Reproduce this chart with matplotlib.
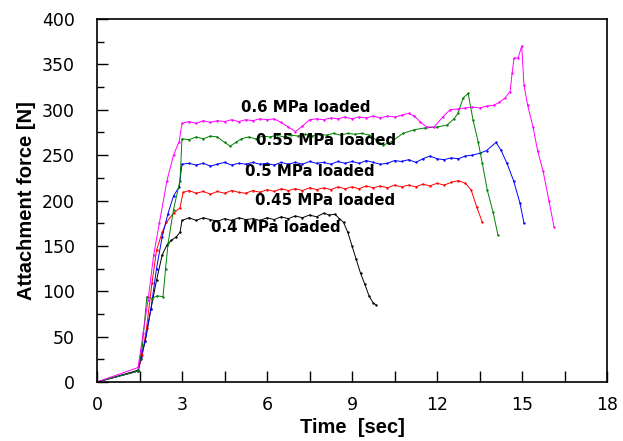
import matplotlib
matplotlib.use("Agg")
import matplotlib.pyplot as plt
from matplotlib.ticker import MultipleLocator

plt.rcParams['font.family'] = ['DejaVu Sans']

# 0.4 MPa (black)
t04 = [0, 1.45, 1.55, 1.7, 1.9, 2.1, 2.3, 2.47, 2.62, 2.8, 2.93, 3.0,
       3.25, 3.5, 3.75, 4.0, 4.25, 4.5, 4.75, 5.0, 5.25, 5.5, 5.75, 6.0, 6.25, 6.5, 6.75, 7.0, 7.25, 7.5, 7.75, 8.0,
       8.2, 8.4, 8.55, 8.7, 8.85, 9.0, 9.15, 9.3, 9.45, 9.6, 9.75, 9.85]
f04 = [0, 13, 25, 45, 80, 112, 140, 151, 156, 160, 165, 178,
       181, 178, 181, 179, 177, 180, 178, 181, 179, 180, 178, 181, 179, 182, 180, 183, 181, 184, 182, 186,
       184, 185, 180, 176, 165, 150, 135, 120, 108, 95, 87, 85]

# 0.45 MPa (red)
t045 = [0, 1.45, 1.6, 1.75, 1.94, 2.1, 2.3, 2.45, 2.7, 2.93, 3.04,
        3.25, 3.5, 3.75, 4.0, 4.25, 4.5, 4.75, 5.0, 5.25, 5.5, 5.75, 6.0, 6.25, 6.5, 6.75, 7.0, 7.25, 7.5, 7.75,
        8.0, 8.25, 8.5, 8.75, 9.0, 9.25, 9.5, 9.75, 10.0, 10.25, 10.5, 10.75, 11.0, 11.25, 11.5, 11.75, 12.0,
        12.25, 12.5, 12.75, 13.0, 13.2, 13.4, 13.6]
f045 = [0, 12, 30, 60, 109, 145, 165, 176, 186, 192, 209,
        211, 208, 210, 207, 210, 208, 211, 209, 208, 211, 209, 212, 210, 213, 211, 213, 211, 214, 212,
        214, 212, 215, 213, 215, 213, 216, 214, 216, 214, 217, 215, 217, 215, 218, 216, 219,
        217, 220, 222, 219, 212, 193, 176]

# 0.5 MPa (blue)
t05 = [0, 1.45, 1.55, 1.7, 1.9, 2.1, 2.3, 2.5, 2.7, 2.9, 3.0,
       3.25, 3.5, 3.75, 4.0, 4.25, 4.5, 4.75, 5.0, 5.25, 5.5, 5.75, 6.0, 6.25, 6.5, 6.75, 7.0, 7.25, 7.5, 7.75,
       8.0, 8.25, 8.5, 8.75, 9.0, 9.25, 9.5, 9.75, 10.0, 10.25, 10.5, 10.75, 11.0, 11.25, 11.5, 11.75, 12.0,
       12.25, 12.5, 12.75, 13.0, 13.25, 13.5, 13.75, 14.08, 14.25, 14.47, 14.7, 14.93, 15.07]
f05 = [0, 12, 28, 45, 80, 125, 160, 185, 205, 215, 240,
       241, 239, 241, 238, 240, 242, 239, 241, 240, 242, 240, 241, 239, 242, 240, 242, 240, 243, 241,
       242, 240, 243, 241, 243, 241, 244, 242, 240, 241, 244, 243, 245, 242, 246, 249, 246,
       245, 247, 246, 249, 250, 252, 255, 264, 256, 241, 222, 197, 175]

# 0.55 MPa (green)
t055 = [0, 1.45, 1.6, 1.76, 1.95, 2.12, 2.33, 2.42, 2.51, 2.7, 2.93, 3.0,
        3.25, 3.5, 3.75, 4.0, 4.25, 4.5, 4.7, 4.9, 5.1, 5.35, 5.6, 5.85, 6.1, 6.35, 6.6, 6.85, 7.1, 7.35, 7.6,
        7.85, 8.1, 8.35, 8.6, 8.85, 9.1, 9.35, 9.6, 9.85, 10.1, 10.4, 10.8, 11.2, 11.58, 12.0, 12.35, 12.6,
        12.74, 12.92, 13.1, 13.27, 13.45, 13.6, 13.77, 13.98, 14.15]
f055 = [0, 12, 40, 94, 92, 95, 94, 125, 153, 190, 222, 268,
        267, 270, 268, 271, 270, 264, 260, 264, 268, 270, 268, 271, 270, 272, 270, 272, 271, 273, 271,
        273, 272, 274, 272, 274, 273, 274, 272, 267, 261, 265, 274, 278, 280, 281, 283, 290,
        296, 313, 318, 289, 265, 241, 212, 187, 162]

# 0.6 MPa (magenta)
t06 = [0, 1.45, 1.63, 1.8, 2.0, 2.2, 2.47, 2.7, 2.9, 3.0,
       3.25, 3.5, 3.75, 4.0, 4.25, 4.5, 4.75, 5.0, 5.25, 5.5, 5.75, 6.0, 6.25, 6.5, 6.75, 7.0, 7.25, 7.5,
       7.75, 8.0, 8.25, 8.5, 8.75, 9.0, 9.25, 9.5, 9.75, 10.0, 10.25, 10.5, 10.75, 11.0, 11.2, 11.4, 11.63,
       11.9, 12.2, 12.46, 12.75, 13.0, 13.25, 13.5, 13.75, 14.0, 14.2, 14.4, 14.58, 14.65, 14.72, 14.86,
       14.99, 15.07, 15.2, 15.39, 15.55, 15.74, 15.95, 16.13]
f06 = [0, 16, 54, 90, 140, 175, 222, 250, 265, 285,
       287, 285, 288, 286, 288, 287, 289, 287, 289, 288, 290, 289, 290, 286, 281, 276, 282, 289,
       290, 289, 291, 290, 292, 290, 292, 291, 293, 291, 293, 292, 294, 296, 293, 287, 281,
       281, 292, 300, 301, 302, 303, 302, 304, 305, 308, 313, 320, 340, 357, 357,
       370, 327, 305, 281, 255, 233, 200, 171]

series = [
    (t04, f04, 'black'),
    (t045, f045, '#ff0000'),
    (t05, f05, '#0000ff'),
    (t055, f055, '#008000'),
    (t06, f06, '#ff00ff'),
]

labels = ['0.6 MPa loaded', '0.55 MPa loaded', '0.5 MPa loaded', '0.45 MPa loaded', '0.4 MPa loaded']
label_x = [7.38, 8.08, 7.52, 8.05, 6.32]
label_y = [303, 266, 232, 200, 170]

xticks = [0, 3, 6, 9, 12, 15, 18]
yticks = [0, 50, 100, 150, 200, 250, 300, 350, 400]

fig = plt.figure(figsize=(6.23, 4.41), dpi=100)
ax = fig.add_axes([97/623, 59/441, 510/623, 363/441])

for t, f, c in series:
    ax.plot(t, f, color=c, lw=0.7, marker='.', markersize=1.4)

for s, x, y in zip(labels, label_x, label_y):
    ax.text(x, y, s, ha='center', va='center', fontsize=10.8, fontweight='bold', color='black')

ax.set_xlim(0, 18)
ax.set_ylim(0, 400)
ax.set_xticks(xticks)
ax.set_yticks(yticks)
ax.xaxis.set_minor_locator(MultipleLocator(1.5))
ax.yaxis.set_minor_locator(MultipleLocator(25))
ax.tick_params(axis='both', which='both', direction='in', labelsize=12.5, top=False, right=False)
ax.tick_params(axis='both', which='major', length=8, width=1)
ax.tick_params(axis='y', which='minor', length=5, width=1)
ax.tick_params(axis='x', which='minor', length=8, width=1)
ax.tick_params(axis='x', which='major', pad=10)
ax.tick_params(axis='y', which='major', pad=16)
for sp in ax.spines.values():
    sp.set_linewidth(1.2)

ax.set_xlabel('Time  [sec]', fontsize=14.5, fontweight='bold', family='Liberation Sans', labelpad=3)
ax.set_ylabel('Attachment force [N]', fontsize=14.5, fontweight='bold', family='Liberation Sans', labelpad=4)

fig.savefig('out.png', dpi=100)
